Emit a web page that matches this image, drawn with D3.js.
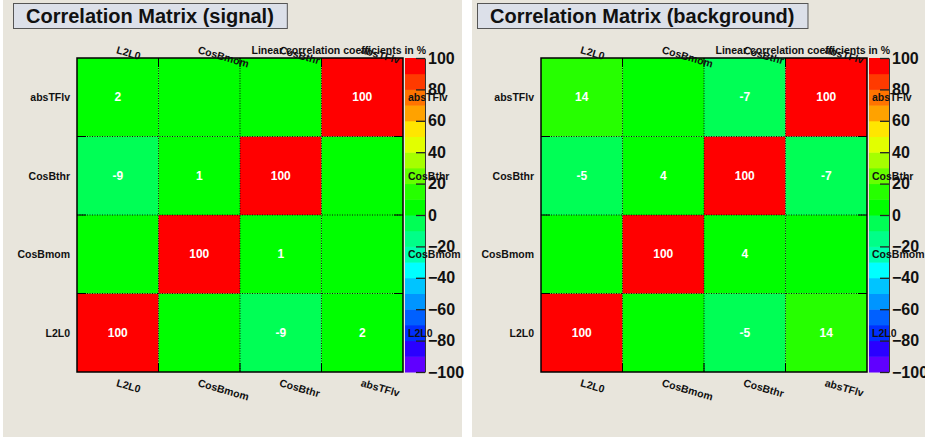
<!DOCTYPE html>
<html>
<head>
<meta charset="utf-8">
<script src="https://cdn.jsdelivr.net/npm/d3@7"></script>
<style>
  body { margin: 0; background: #fff; }
  text { font-family: "Liberation Sans", Arial, Helvetica, sans-serif; font-weight: bold; }
</style>
</head>
<body>
<svg id="chart" width="925" height="437"></svg>
<script>
// variables, bottom-to-top on y and left-to-right on x
const variables = ["L2L0", "CosBmom", "CosBthr", "absTFlv"]

// correlation in %, row = y variable, col = x variable
const signalMatrix = [
  [100, 0, -9, 2],
  [0, 100, 1, 0],
  [-9, 1, 100, 0],
  [2, 0, 0, 100]
]
const backgroundMatrix = [
  [100, 0, -5, 14],
  [0, 100, 4, 0],
  [-5, 4, 100, -7],
  [14, 0, -7, 100]
]

const panelTitles = ["Correlation Matrix (signal)", "Correlation Matrix (background)"]

// palette bins from -100 up to 100, 10 wide each
const paletteColors = [
  "#6000ff", "#2a00ff", "#0030ff", "#0060ff", "#0095ff",
  "#00c4ff", "#00ffff", "#00ffb0", "#00ff88", "#00ff55",
  "#00ff00", "#26ff00", "#66ff00", "#a6ff00", "#e2ff00",
  "#ffe600", "#ffa200", "#ff7400", "#ff3a00", "#ff0000"
]
const paletteTicks = [-100, -80, -60, -40, -20, 0, 20, 40, 60, 80, 100]

const svg = d3.select("#chart")

const color = d3.scaleQuantize().domain([-100, 100]).range(paletteColors)

const drawPanel = (i, matrix) => {
  const dx = i === 0 ? 0 : 464
  const g = svg.append("g").attr("transform", `translate(${dx},0)`)

  // pad background
  g.append("rect")
    .attr("x", i === 0 ? 3 : 8)
    .attr("y", 0)
    .attr("width", i === 0 ? 459 : 460)
    .attr("height", 437)
    .attr("fill", "#e8e5dc")

  // title box
  const titleText = g.append("text")
    .attr("x", 26).attr("y", 23)
    .attr("font-size", 20)
    .attr("fill", "#111")
    .text(panelTitles[i])
  const tw = titleText.node().getComputedTextLength()
  g.insert("rect", "text")
    .attr("x", 13.5).attr("y", 3.5)
    .attr("width", tw + 26).attr("height", 25)
    .attr("fill", "#dce0e9")
    .attr("stroke", "#555")
    .attr("stroke-width", 1)

  const x = d3.scaleBand().domain(variables).range([77, 403])
  const y = d3.scaleBand().domain(variables).range([372, 58])
  const cells = []
  variables.forEach((vy, r) => variables.forEach((vx, c) => cells.push({ vx, vy, v: matrix[r][c] })))

  g.selectAll("rect.cell")
    .data(cells)
    .enter()
    .append("rect")
      .classed("cell", true)
      .attr("x", d => x(d.vx))
      .attr("y", d => y(d.vy))
      .attr("width", x.bandwidth())
      .attr("height", y.bandwidth())
      .attr("fill", d => color(d.v))

  // dotted grid at inner bin edges
  const inner = variables.slice(1)
  g.selectAll("line.gx")
    .data(inner)
    .enter()
    .append("line")
      .attr("x1", d => x(d)).attr("x2", d => x(d))
      .attr("y1", 58).attr("y2", 372)
      .attr("stroke", "#111").attr("stroke-width", 1)
      .attr("stroke-dasharray", "1,1.5")
  g.selectAll("line.gy")
    .data(inner)
    .enter()
    .append("line")
      .attr("y1", d => y(d) + y.bandwidth()).attr("y2", d => y(d) + y.bandwidth())
      .attr("x1", 77).attr("x2", 403)
      .attr("stroke", "#111").attr("stroke-width", 1)
      .attr("stroke-dasharray", "1,1.5")

  // ticks at bin edges
  const tl = 9
  inner.forEach(d => {
    const xv = x(d), yv = y(d) + y.bandwidth()
    g.append("line").attr("x1", xv).attr("x2", xv).attr("y1", 58).attr("y2", 58 + tl).attr("stroke", "#000")
    g.append("line").attr("x1", xv).attr("x2", xv).attr("y1", 372).attr("y2", 372 - tl).attr("stroke", "#000")
    g.append("line").attr("y1", yv).attr("y2", yv).attr("x1", 77).attr("x2", 77 + tl).attr("stroke", "#000")
    g.append("line").attr("y1", yv).attr("y2", yv).attr("x1", 403).attr("x2", 403 - tl).attr("stroke", "#000")
  })

  g.append("rect")
    .attr("x", 77).attr("y", 58)
    .attr("width", 326).attr("height", 314)
    .attr("fill", "none")
    .attr("stroke", "#000").attr("stroke-width", 1.5)

  // cell values
  g.selectAll("text.val")
    .data(cells.filter(d => d.v !== 0))
    .enter()
    .append("text")
      .classed("val", true)
      .attr("x", d => x(d.vx) + x.bandwidth() / 2)
      .attr("y", d => y(d.vy) + y.bandwidth() / 2)
      .attr("text-anchor", "middle")
      .attr("dominant-baseline", "central")
      .attr("font-size", 12)
      .attr("fill", "#fff")
      .text(d => d.v)

  // left labels
  g.selectAll("text.yl")
    .data(variables)
    .enter()
    .append("text")
      .attr("x", 70)
      .attr("y", d => y(d) + y.bandwidth() / 2)
      .attr("text-anchor", "end")
      .attr("dominant-baseline", "central")
      .attr("font-size", 10.5)
      .attr("fill", "#111")
      .text(d => d)

  // bottom and top rotated labels
  ;[386, 53].forEach(by => {
    g.selectAll(null)
      .data(variables)
      .enter()
      .append("text")
        .attr("transform", d => `translate(${x(d) + x.bandwidth() / 2 - 2},${by}) rotate(16)`)
        .attr("font-size", 10.5)
        .attr("fill", "#111")
        .text(d => d)
  })

  // palette
  const p = d3.scaleLinear().domain([-100, 100]).range([372, 58])
  g.selectAll("rect.pal")
    .data(paletteColors)
    .enter()
    .append("rect")
      .attr("x", 405)
      .attr("y", (d, k) => p(-100 + (k + 1) * 10))
      .attr("width", 20)
      .attr("height", (d, k) => p(-100 + k * 10) - p(-100 + (k + 1) * 10) + 0.5)
      .attr("fill", d => d)

  const axis = g.append("g")
    .attr("transform", "translate(425,0)")
    .call(d3.axisRight(p).tickValues(paletteTicks).tickSizeInner(-9).tickSizeOuter(0).tickPadding(3))
  axis.selectAll("text").attr("font-size", 16).attr("fill", "#111").attr("font-family", null)
  axis.selectAll("line").attr("stroke", "#222").attr("stroke-width", 1.3)
  axis.select(".domain").attr("stroke", "#333")

  // right side labels over the palette
  g.selectAll("text.yr")
    .data(variables)
    .enter()
    .append("text")
      .attr("x", 408)
      .attr("y", d => y(d) + y.bandwidth() / 2)
      .attr("dominant-baseline", "central")
      .attr("font-size", 10.5)
      .attr("fill", "#111")
      .text(d => d)

  g.append("text")
    .attr("x", 426).attr("y", 54)
    .attr("text-anchor", "end")
    .attr("font-size", 10.5)
    .attr("fill", "#111")
    .text("Linear correlation coefficients in %")
}

drawPanel(0, signalMatrix)
drawPanel(1, backgroundMatrix)
</script>
</body>
</html>
